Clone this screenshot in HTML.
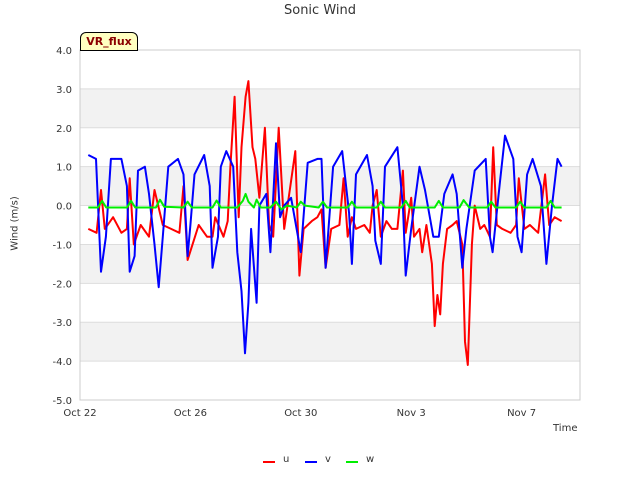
<!DOCTYPE html>
<html><head><meta charset="utf-8"><style>
body{margin:0;background:#fff;font-family:"Liberation Sans","DejaVu Sans",sans-serif}
svg text{font-family:"DejaVu Sans","Liberation Sans",sans-serif}
</style></head><body>
<svg id="c" width="640" height="480" viewBox="0 0 640 480"></svg>
<script>
const xTickLabels=["Oct 22","Oct 26","Oct 30","Nov 3","Nov 7"];
const xTickDays=[0,4,8,12,16];
const yTicks=[4,3,2,1,0,-1,-2,-3,-4,-5];
const uT=[0.3,0.6,0.76,0.9,1.2,1.5,1.7,1.8,1.95,2.2,2.5,2.7,3.0,3.3,3.6,3.75,3.9,4.3,4.6,4.8,4.9,5.2,5.35,5.45,5.6,5.75,5.85,6.0,6.1,6.25,6.35,6.5,6.7,6.85,7.0,7.2,7.4,7.6,7.8,7.95,8.1,8.4,8.6,8.75,8.9,9.1,9.4,9.55,9.7,9.85,10.0,10.3,10.5,10.6,10.75,10.9,11.1,11.3,11.5,11.7,11.8,12.0,12.1,12.3,12.4,12.55,12.75,12.85,12.95,13.05,13.15,13.3,13.5,13.65,13.85,13.95,14.05,14.2,14.3,14.5,14.65,14.85,14.97,15.1,15.3,15.6,15.8,15.9,16.1,16.3,16.6,16.85,17.0,17.2,17.45];
const uV=[-0.6,-0.7,0.4,-0.6,-0.3,-0.7,-0.6,0.7,-1.0,-0.5,-0.8,0.4,-0.5,-0.6,-0.7,0.5,-1.4,-0.5,-0.8,-0.8,-0.3,-0.8,-0.4,1.0,2.8,-0.3,1.5,2.8,3.2,1.5,1.2,0.2,2.0,-0.5,-0.8,2.0,-0.6,0.4,1.4,-1.8,-0.6,-0.4,-0.3,-0.1,-1.6,-0.6,-0.5,0.7,-0.8,-0.3,-0.6,-0.5,-0.7,0.0,0.4,-0.8,-0.4,-0.6,-0.6,0.9,-0.7,0.2,-0.8,-0.6,-1.2,-0.5,-1.5,-3.1,-2.3,-2.8,-1.5,-0.6,-0.5,-0.4,-1.0,-3.5,-4.1,-1.0,0.0,-0.6,-0.5,-0.8,1.5,-0.5,-0.6,-0.7,-0.5,0.7,-0.6,-0.5,-0.7,0.8,-0.5,-0.3,-0.4];
const vT=[0.3,0.58,0.76,0.94,1.12,1.5,1.7,1.8,1.98,2.1,2.35,2.5,2.7,2.85,3.0,3.2,3.55,3.75,3.9,4.0,4.15,4.5,4.7,4.8,5.0,5.1,5.3,5.55,5.7,5.85,5.98,6.1,6.2,6.4,6.5,6.75,6.9,7.1,7.25,7.4,7.65,7.9,8.0,8.25,8.6,8.75,8.9,9.17,9.5,9.75,9.85,10.0,10.4,10.6,10.7,10.9,11.05,11.5,11.7,11.8,12.0,12.3,12.5,12.8,13.0,13.2,13.5,13.65,13.85,14.0,14.3,14.7,14.85,14.95,15.2,15.4,15.7,15.85,16.0,16.2,16.4,16.7,16.9,17.1,17.3,17.45];
const vV=[1.3,1.2,-1.7,-0.8,1.2,1.2,0.5,-1.7,-1.3,0.9,1.0,0.3,-1.0,-2.1,-0.8,1.0,1.2,0.8,-1.3,-0.5,0.8,1.3,0.5,-1.6,-0.8,1.0,1.4,1.0,-1.2,-2.2,-3.8,-2.5,-0.6,-2.5,0.0,0.3,-1.2,1.6,-0.3,0.0,0.2,-0.8,-1.2,1.1,1.2,1.2,-1.6,1.0,1.4,-0.2,-1.5,0.8,1.3,0.5,-0.9,-1.5,1.0,1.5,0.0,-1.8,-0.6,1.0,0.4,-0.8,-0.8,0.3,0.8,0.3,-1.6,-0.6,0.9,1.2,-0.8,-1.2,0.5,1.8,1.2,-0.8,-1.2,0.8,1.2,0.5,-1.5,0.0,1.2,1.0];
const wT=[0.3,0.65,0.8,0.95,1.7,1.85,2.0,2.75,2.9,3.05,3.75,3.9,4.05,4.8,4.95,5.1,5.7,5.9,6.0,6.1,6.3,6.4,6.55,6.9,7.1,7.3,7.5,7.85,8.0,8.15,8.65,8.8,8.95,9.7,9.85,10.0,10.75,10.9,11.05,11.65,11.8,11.95,12.85,13.0,13.15,13.75,13.9,14.1,14.75,14.9,15.05,15.8,15.95,16.1,16.9,17.05,17.2,17.45];
const wV=[-0.05,-0.05,0.12,-0.05,-0.05,0.12,-0.05,-0.05,0.15,-0.03,-0.05,0.1,-0.05,-0.05,0.13,-0.05,-0.05,0.12,0.3,0.1,-0.05,0.15,-0.05,-0.05,0.1,-0.1,0.0,-0.05,0.1,0.0,-0.05,0.1,-0.05,-0.05,0.1,-0.05,-0.05,0.1,-0.05,-0.05,0.12,-0.05,-0.05,0.12,-0.05,-0.05,0.14,-0.05,-0.05,0.1,-0.05,-0.05,0.1,-0.05,-0.05,0.12,-0.05,-0.05];

const L=80,R=580,T=50,B=400;
const xs=d=>L+d*27.6;
const ys=v=>T+(4-v)*(B-T)/9;
const svg=document.getElementById('c');
const NS="http://www.w3.org/2000/svg";
function mk(tag,at,parent){const e=document.createElementNS(NS,tag);for(const k in at)e.setAttribute(k,at[k]);(parent||svg).appendChild(e);return e;}
// bands
for(let i=0;i<yTicks.length-1;i++){
 if(i%2===1){const r=mk('rect',{x:L,y:ys(yTicks[i]),width:R-L,height:ys(yTicks[i+1])-ys(yTicks[i]),fill:'#f2f2f2'});
 
 }
}
yTicks.forEach(v=>{
 const g=mk('line',{x1:L,x2:R,y1:ys(v),y2:ys(v),stroke:'#dddddd','stroke-width':1});
 
 
 const t=mk('text',{x:72,y:ys(v)+4,'text-anchor':'end','font-size':10,fill:'#333'});
 t.textContent=v.toFixed(1);
 
 
});
mk('rect',{x:L,y:T,width:R-L,height:B-T,fill:'none',stroke:'#cccccc'});
xTickDays.forEach((d,i)=>{
 const t=mk('text',{x:xs(d),y:416,'text-anchor':'middle','font-size':10,fill:'#333'});
 t.textContent=xTickLabels[i];
 
 
});
function series(T_,V_,col,name){
 const d=T_.map((t,i)=>(i?'L':'M')+xs(t).toFixed(1)+','+ys(V_[i]).toFixed(1)).join('');
 const p=mk('path',{d:d,fill:'none',stroke:col,'stroke-width':2,'stroke-linejoin':'round'});
 
 
}
series(uT,uV,'#ff0000','series-u');
series(vT,vV,'#0000ff','series-v');
series(wT,wV,'#00ee00','series-w');
</script>
<div style="position:absolute;left:0;top:0;width:640px;height:480px;pointer-events:none">
<div style="position:absolute;left:0;width:640px;top:3px;text-align:center;font:13px 'DejaVu Sans',sans-serif;color:#333">Sonic Wind</div>
<div style="position:absolute;left:-20px;top:218px;width:70px;text-align:center;transform:rotate(-90deg);font:10px 'DejaVu Sans',sans-serif;color:#333">Wind (m/s)</div>
<div style="position:absolute;left:553px;top:423px;font:10px 'DejaVu Sans',sans-serif;color:#333">Time</div>
<div style="position:absolute;left:80px;top:32px;width:56px;height:17px;background:#ffffc0;border:1px solid #000;border-radius:6px 6px 0 0;font:bold 11px 'DejaVu Sans',sans-serif;color:#8b0000;text-align:center;line-height:17px">VR_flux</div>
<div style="position:absolute;top:454px;left:0;font:10px 'DejaVu Sans',sans-serif;color:#333">
 <div style="position:absolute;left:263px;width:40px"><span style="position:absolute;top:7px;width:12px;height:2px;background:#f00"></span><span style="position:absolute;left:20px">u</span></div>
 <div style="position:absolute;left:305px;width:40px"><span style="position:absolute;top:7px;width:12px;height:2px;background:#00f"></span><span style="position:absolute;left:20px">v</span></div>
 <div style="position:absolute;left:346px;width:40px"><span style="position:absolute;top:7px;width:12px;height:2px;background:#0e0"></span><span style="position:absolute;left:20px">w</span></div>
</div>
</div>
</body></html>
